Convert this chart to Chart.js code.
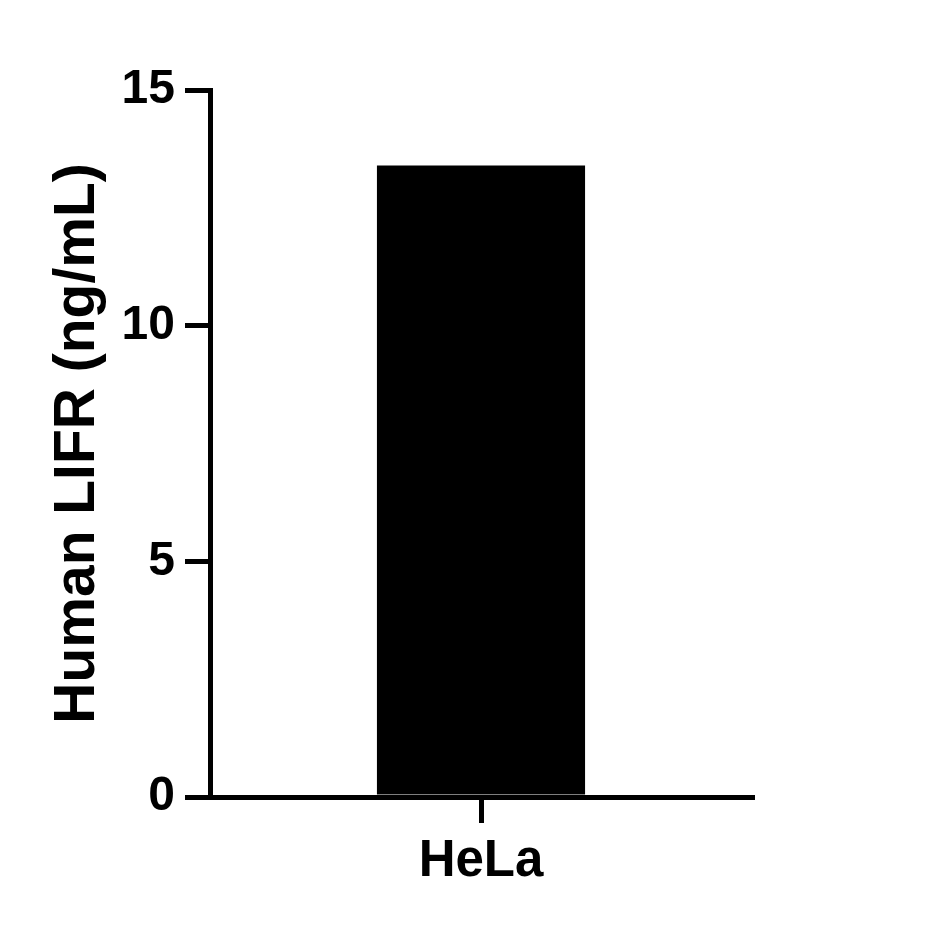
<!DOCTYPE html>
<html>
<head>
<meta charset="utf-8">
<script src="https://cdn.jsdelivr.net/npm/chart.js@4"></script>
<style>
  html, body { margin: 0; padding: 0; background: #fff; }
  #wrap { width: 931px; height: 933px; }
</style>
</head>
<body>
<div id="wrap"><canvas id="chart" width="931" height="933"></canvas></div>
<script>
const categories = ["HeLa"];
const lifrValues = [13.4];
const yTicks = [0, 5, 10, 15];
const yTitle = "Human LIFR (ng/mL)";

window.onload = function() {
    drawChart();
}

function drawChart() {
    var ctx = document.getElementById("chart").getContext("2d");
    var family = "'Liberation Sans', Arial, sans-serif";

    new Chart(ctx, {
        type: "bar",
        data: {
            labels: categories,
            datasets: [{
                data: lifrValues,
                backgroundColor: "#000",
                borderWidth: 0,
                barPercentage: 0.384,
                categoryPercentage: 1.0
            }]
        },
        options: {
            responsive: false,
            animation: false,
            layout: { padding: { top: 90, right: 179, bottom: 0, left: 0 } },
            plugins: { legend: { display: false }, tooltip: { enabled: false } },
            scales: {
                x: {
                    grid: { offset: false, drawOnChartArea: false, tickLength: 26, lineWidth: 5, color: "#000" },
                    border: { color: "#000", width: 5 },
                    ticks: { color: "#000", font: { family: family, weight: "bold", size: 51 }, padding: 8 },
                    afterFit: function(scale) { scale.height = 136; }
                },
                y: {
                    min: 0,
                    max: 15,
                    afterBuildTicks: function(scale) {
                        scale.ticks = yTicks.map(function(v) { return { value: v }; });
                    },
                    grid: { drawOnChartArea: false, tickLength: 25, lineWidth: 5, color: "#000" },
                    border: { color: "#000", width: 5 },
                    ticks: { color: "#000", font: { family: family, weight: "bold", size: 48 }, padding: 10 },
                    title: {
                        display: true,
                        text: yTitle,
                        color: "#000",
                        font: { family: family, weight: "bold", size: 57 },
                        padding: { top: 44, bottom: 0 }
                    },
                    afterFit: function(scale) { scale.width = 210; }
                }
            }
        }
    });
}
</script>
</body>
</html>
